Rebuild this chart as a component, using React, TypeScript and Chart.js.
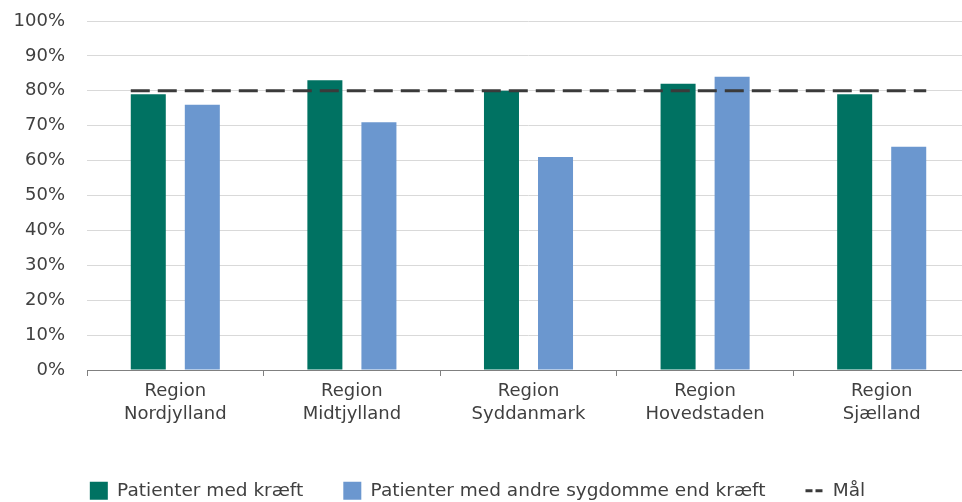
import { useEffect, useRef } from "react";
import { Chart, registerables } from "chart.js";

Chart.register(...registerables);

const categories: string[][] = [
  ["Region", "Nordjylland"],
  ["Region", "Midtjylland"],
  ["Region", "Syddanmark"],
  ["Region", "Hovedstaden"],
  ["Region", "Sjælland"],
];
const cancerValues = [79, 83, 80, 82, 79];
const otherValues = [76, 71, 61, 84, 64];
const targetValues = [80];
const seriesNames = ["Patienter med kræft", "Patienter med andre sygdomme end kræft", "Mål"];
const yMin = 0;
const yMax = 100;
const yStep = 10;

const GREEN = "#007262";
const BLUE = "#6b97cf";
const DASH = "#3a3a3a";
const TEXT = "#404040";
const FONT = "'DejaVu Sans', sans-serif";

const targetLinePlugin = {
  id: "targetLine",
  afterDatasetsDraw(chart: any) {
    const ctx = chart.ctx;
    const y = chart.scales.y.getPixelForValue(targetValues[0]);
    const first: any = chart.getDatasetMeta(0).data[0];
    const lastArr = chart.getDatasetMeta(1).data;
    const last: any = lastArr[lastArr.length - 1];
    const x0 = first.x - first.width / 2;
    const x1 = last.x + last.width / 2;
    ctx.save();
    ctx.setLineDash([19, 8]);
    ctx.lineWidth = 3;
    ctx.strokeStyle = DASH;
    ctx.beginPath();
    ctx.moveTo(x0, y);
    ctx.lineTo(x1, y);
    ctx.stroke();
    ctx.restore();
  },
};

export default function App() {
  const ref = useRef<HTMLCanvasElement | null>(null);

  useEffect(() => {
    if (!ref.current) return;
    const chart = new Chart(ref.current, {
      type: "bar",
      data: {
        labels: categories,
        datasets: [
          {
            label: seriesNames[0],
            data: cancerValues,
            backgroundColor: GREEN,
            categoryPercentage: 0.612,
            barPercentage: 0.648,
          },
          {
            label: seriesNames[1],
            data: otherValues,
            backgroundColor: BLUE,
            categoryPercentage: 0.612,
            barPercentage: 0.648,
          },
        ],
      },
      options: {
        responsive: false,
        animation: false,
        devicePixelRatio: 1,
        layout: { padding: { left: 0, right: 15, top: 21, bottom: 0 } },
        plugins: {
          tooltip: { enabled: false },
          legend: {
            position: "bottom",
            align: "center",
            labels: {
              usePointStyle: true,
              pointStyleWidth: 18,
              boxWidth: 18,
              boxHeight: 18,
              padding: 40,
              color: TEXT,
              font: { family: FONT, size: 18.5 },
              generateLabels: () => [
                {
                  text: seriesNames[0],
                  fillStyle: GREEN,
                  strokeStyle: GREEN,
                  lineWidth: 0,
                  pointStyle: "rect",
                  hidden: false,
                  datasetIndex: 0,
                  fontColor: TEXT,
                },
                {
                  text: seriesNames[1],
                  fillStyle: BLUE,
                  strokeStyle: BLUE,
                  lineWidth: 0,
                  pointStyle: "rect",
                  hidden: false,
                  datasetIndex: 1,
                  fontColor: TEXT,
                },
                {
                  text: seriesNames[2],
                  fillStyle: "rgba(0,0,0,0)",
                  strokeStyle: DASH,
                  lineWidth: 3,
                  lineDash: [7, 3],
                  pointStyle: "line",
                  hidden: false,
                  fontColor: TEXT,
                },
              ] as any,
            },
          },
        },
        scales: {
          x: {
            grid: {
              display: true,
              drawOnChartArea: false,
              offset: true,
              color: "#808080",
              tickLength: 6,
            },
            border: { display: true, color: "#808080", width: 1 },
            ticks: {
              color: TEXT,
              font: { family: FONT, size: 18, lineHeight: 1.28 },
              padding: 4,
              maxRotation: 0,
              autoSkip: false,
            },
            afterFit: (s: any) => {
              s.height = 71.5;
            },
          },
          y: {
            min: yMin,
            max: yMax,
            grid: { color: "#d9d9d9", lineWidth: 1, drawTicks: false },
            border: { display: false },
            ticks: {
              stepSize: yStep,
              color: TEXT,
              font: { family: FONT, size: 18 },
              padding: 22,
              callback: (v: any) => v + "%",
            },
            afterFit: (s: any) => {
              s.width = 102;
              s.paddingTop = 0;
              s.paddingBottom = 0;
            },
          },
        },
      },
      plugins: [targetLinePlugin],
    });
    return () => chart.destroy();
  }, []);

  return (
    <div
      style={{
        position: "fixed",
        left: 0,
        top: 0,
        width: 962,
        height: 502,
        overflow: "hidden",
        background: "#fff",
      }}
    >
      <canvas
        ref={ref}
        width={1000}
        height={510}
        style={{ position: "absolute", left: -15, top: 0, width: 1000, height: 510 }}
      />
    </div>
  );
}
